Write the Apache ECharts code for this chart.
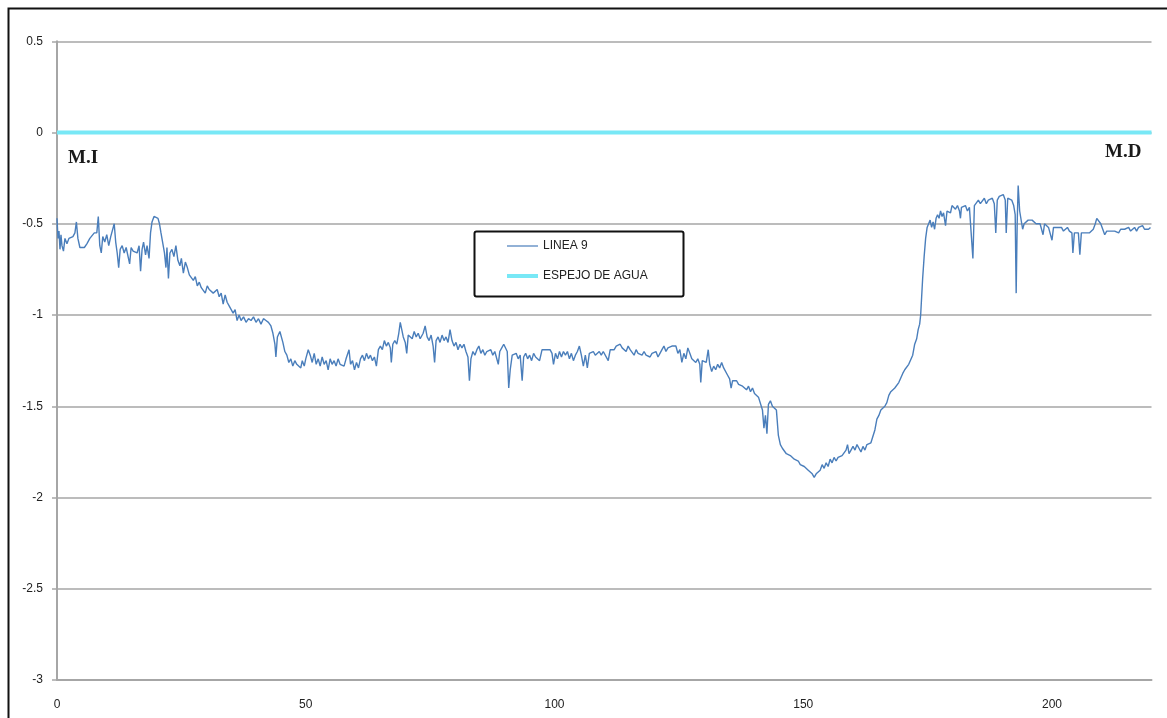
<!DOCTYPE html>
<html>
<head>
<meta charset="utf-8">
<script src="https://cdn.jsdelivr.net/npm/echarts@6/dist/echarts.min.js"></script>
<style>
  html, body { margin: 0; padding: 0; background: #fff; }
  #chart { width: 1167px; height: 718px; }
</style>
</head>
<body>
<div id="chart"></div>
<script>
// Cross-section profile, LINEA 9: [station, elevation]
const linea9 = [
  [0,-0.47],[0.2,-0.58],[0.4,-0.54],[0.6,-0.64],[0.8,-0.56],[1.0,-0.62],[1.3,-0.65],[1.6,-0.58],[2.0,-0.61],[2.4,-0.58],
  [2.8,-0.59],[3.2,-0.57],[3.6,-0.55],[3.9,-0.49],[4.2,-0.58],[4.6,-0.63],[5.0,-0.62],[5.5,-0.63],[6.0,-0.61],[6.6,-0.58],
  [7.0,-0.57],[7.5,-0.55],[8.0,-0.55],[8.3,-0.46],[8.6,-0.62],[8.9,-0.66],[9.2,-0.57],[9.6,-0.60],[10.0,-0.56],[10.4,-0.62],
  [10.8,-0.57],[11.2,-0.58],[11.5,-0.50],[11.8,-0.60],[12.1,-0.66],[12.4,-0.74],[12.7,-0.64],[13.1,-0.62],[13.5,-0.66],[13.9,-0.63],
  [14.3,-0.64],[14.6,-0.72],[14.9,-0.63],[15.3,-0.65],[15.7,-0.64],[16.1,-0.66],[16.5,-0.62],[16.8,-0.76],[17.1,-0.64],[17.4,-0.60],
  [17.8,-0.67],[18.1,-0.62],[18.5,-0.69],[18.8,-0.55],[19.1,-0.49],[19.5,-0.46],[19.9,-0.45],[20.3,-0.47],[20.6,-0.50],[20.9,-0.55],
  [21.3,-0.56],[21.6,-0.66],[21.9,-0.74],[22.1,-0.63],[22.4,-0.80],[22.7,-0.66],[23.1,-0.64],[23.5,-0.68],[23.9,-0.62],[24.3,-0.70],
  [24.7,-0.73],[25.0,-0.69],[25.4,-0.77],[25.8,-0.71],[26.2,-0.74],[26.6,-0.78],[27.0,-0.77],[27.4,-0.81],[27.8,-0.79],[28.2,-0.84],
  [28.6,-0.82],[29.0,-0.85],[29.4,-0.84],[29.8,-0.88],[30.2,-0.84],[30.6,-0.86],[31.0,-0.85],[31.4,-0.88],[31.8,-0.87],[32.2,-0.86],
  [32.6,-0.90],[33.0,-0.88],[33.4,-0.94],[33.8,-0.89],[34.2,-0.93],[34.6,-0.95],[35.0,-0.94],[35.4,-0.99],[35.8,-0.97],[36.2,-1.03],
  [36.6,-1.00],[37.0,-1.03],[37.5,-1.01],[38.0,-1.04],[38.5,-1.02],[39.0,-1.03],[39.5,-1.01],[40.0,-1.04],[40.5,-1.02],[41.0,-1.05],
  [41.5,-1.02],[42.0,-1.03],[42.5,-1.04],[43.0,-1.06],[43.4,-1.10],[43.8,-1.16],[44.0,-1.23],[44.3,-1.12],[44.8,-1.09],[45.1,-1.08],
  [45.4,-1.15],[45.8,-1.20],[46.2,-1.22],[46.6,-1.26],[47.0,-1.24],[47.4,-1.28],[47.8,-1.25],[48.2,-1.27],[48.6,-1.26],[49.0,-1.29],
  [49.3,-1.25],[49.7,-1.28],[50.0,-1.24],[50.5,-1.19],[50.9,-1.22],[51.3,-1.26],[51.7,-1.21],[52.1,-1.27],[52.5,-1.24],[52.9,-1.28],
  [53.3,-1.23],[53.7,-1.27],[54.1,-1.25],[54.5,-1.30],[54.9,-1.24],[55.3,-1.27],[55.7,-1.25],[56.1,-1.28],[56.5,-1.24],[56.9,-1.27],
  [57.3,-1.26],[57.7,-1.28],[58.1,-1.24],[58.7,-1.19],[59.0,-1.27],[59.4,-1.25],[59.8,-1.30],[60.2,-1.26],[60.6,-1.29],[61.0,-1.24],
  [61.4,-1.22],[61.8,-1.25],[62.2,-1.21],[62.6,-1.24],[63.0,-1.22],[63.4,-1.25],[63.8,-1.23],[64.2,-1.28],[64.6,-1.19],[65.0,-1.17],
  [65.4,-1.19],[65.8,-1.14],[66.2,-1.17],[66.6,-1.15],[67.0,-1.18],[67.2,-1.26],[67.5,-1.16],[67.9,-1.14],[68.3,-1.16],[68.7,-1.10],
  [69.0,-1.04],[69.3,-1.08],[69.6,-1.12],[70.0,-1.15],[70.3,-1.21],[70.6,-1.11],[71.0,-1.10],[71.4,-1.13],[71.8,-1.09],[72.2,-1.12],
  [72.6,-1.10],[73.0,-1.13],[73.6,-1.10],[74.0,-1.06],[74.4,-1.12],[74.8,-1.14],[75.2,-1.11],[75.6,-1.17],[75.9,-1.26],[76.2,-1.14],
  [76.6,-1.12],[77.0,-1.15],[77.4,-1.11],[77.8,-1.14],[78.2,-1.12],[78.6,-1.15],[79.0,-1.08],[79.4,-1.14],[79.8,-1.17],[80.2,-1.15],
  [80.6,-1.19],[81.0,-1.16],[81.4,-1.18],[81.8,-1.16],[82.2,-1.20],[82.6,-1.23],[82.9,-1.36],[83.2,-1.24],[83.6,-1.20],[84.0,-1.22],
  [84.4,-1.19],[84.8,-1.17],[85.2,-1.21],[85.6,-1.19],[86.0,-1.22],[86.4,-1.20],[86.8,-1.21],[87.2,-1.19],[87.6,-1.22],[88.0,-1.20],
  [88.4,-1.21],[88.7,-1.27],[89.0,-1.20],[89.4,-1.18],[89.8,-1.16],[90.2,-1.15],[90.5,-1.20],[90.8,-1.40],[91.1,-1.30],[91.5,-1.22],
  [91.9,-1.23],[92.3,-1.21],[92.7,-1.24],[93.1,-1.22],[93.5,-1.36],[93.8,-1.23],[94.2,-1.21],[94.6,-1.24],[95.0,-1.22],[95.4,-1.25],
  [95.8,-1.21],[96.2,-1.23],[96.6,-1.22],[97.0,-1.25],[97.5,-1.19],[97.9,-1.20],[98.3,-1.19],[98.7,-1.20],[99.1,-1.19],[99.5,-1.21],
  [99.8,-1.27],[100.2,-1.21],[100.6,-1.24],[101.0,-1.20],[101.4,-1.23],[101.8,-1.20],[102.2,-1.22],[102.6,-1.20],[103.0,-1.24],[103.4,-1.21],
  [103.8,-1.25],[104.2,-1.22],[104.6,-1.20],[105.0,-1.17],[105.4,-1.22],[105.8,-1.28],[106.2,-1.22],[106.6,-1.29],[107.0,-1.21],[107.4,-1.22],
  [107.8,-1.20],[108.2,-1.22],[108.6,-1.21],[109.0,-1.20],[109.4,-1.22],[109.8,-1.20],[110.2,-1.21],[110.8,-1.25],[111.2,-1.19],[111.6,-1.18],
  [112.0,-1.19],[112.4,-1.17],[112.8,-1.18],[113.2,-1.16],[113.6,-1.18],[114.0,-1.17],[114.4,-1.20],[114.8,-1.17],[115.2,-1.19],[115.6,-1.18],
  [116.0,-1.22],[116.4,-1.19],[116.8,-1.21],[117.2,-1.20],[117.6,-1.22],[118.0,-1.20],[118.4,-1.22],[118.8,-1.21],[119.2,-1.23],[119.6,-1.21],
  [120.0,-1.22],[120.4,-1.20],[120.8,-1.23],[121.2,-1.21],[121.6,-1.19],[122.0,-1.17],[122.4,-1.20],[122.8,-1.18],[123.2,-1.19],[123.6,-1.17],
  [124.0,-1.18],[124.4,-1.17],[124.8,-1.21],[125.2,-1.19],[125.6,-1.26],[126.0,-1.21],[126.4,-1.24],[126.8,-1.18],[127.2,-1.21],[127.6,-1.24],
  [128.0,-1.23],[128.4,-1.26],[128.8,-1.24],[129.2,-1.27],[129.4,-1.37],[129.7,-1.25],[130.1,-1.24],[130.5,-1.26],[130.9,-1.19],[131.2,-1.27],
  [131.6,-1.31],[132.0,-1.28],[132.4,-1.30],[132.8,-1.27],[133.2,-1.29],[133.6,-1.26],[134.0,-1.29],[134.4,-1.28],[134.8,-1.33],[135.2,-1.35],
  [135.5,-1.40],[135.8,-1.36],[136.2,-1.37],[136.6,-1.36],[137.0,-1.38],[137.4,-1.37],[137.8,-1.39],[138.2,-1.38],[138.6,-1.41],[139.0,-1.39],
  [139.4,-1.42],[139.8,-1.40],[140.2,-1.43],[140.6,-1.42],[141.0,-1.45],[141.4,-1.46],[141.8,-1.52],[142.1,-1.62],[142.4,-1.55],[142.7,-1.65],
  [143.0,-1.49],[143.4,-1.47],[143.8,-1.50],[144.2,-1.49],[144.6,-1.52],[145.0,-1.66],[145.4,-1.71],[145.8,-1.73],[146.2,-1.72],[146.6,-1.76],
  [147.0,-1.75],[147.4,-1.77],[147.8,-1.76],[148.2,-1.79],[148.6,-1.78],[149.0,-1.80],[149.4,-1.82],[149.8,-1.81],[150.2,-1.83],[150.6,-1.82],
  [151.0,-1.85],[151.4,-1.84],[151.8,-1.87],[152.2,-1.89],[152.6,-1.87],[153.0,-1.88],[153.4,-1.85],[153.8,-1.82],[154.2,-1.84],[154.6,-1.81],
  [155.0,-1.83],[155.4,-1.79],[155.8,-1.81],[156.2,-1.78],[156.6,-1.80],[157.0,-1.78],[157.4,-1.79],[157.8,-1.77],[158.2,-1.78],[158.6,-1.74],
  [158.9,-1.71],[159.2,-1.76],[159.6,-1.74],[160.0,-1.72],[160.4,-1.74],[160.8,-1.71],[161.2,-1.73],[161.6,-1.75],[162.0,-1.72],[162.4,-1.74],
  [162.8,-1.71],[163.2,-1.72],[163.6,-1.70],[164.0,-1.71],[164.4,-1.63],[164.8,-1.57],[165.2,-1.55],[165.6,-1.52],[166.0,-1.53],[166.4,-1.50],
  [166.8,-1.48],[167.2,-1.44],[167.6,-1.42],[168.0,-1.43],[168.4,-1.40],[168.8,-1.41],[169.2,-1.37],[169.6,-1.36],[170.0,-1.32],[170.4,-1.30],
  [170.8,-1.31],[171.2,-1.27],[171.6,-1.28],[172.0,-1.22],[172.4,-1.16],[172.8,-1.13],[173.1,-1.08],[173.4,-1.05],[173.6,-1.00],[173.8,-0.90],
  [174.0,-0.80],[174.3,-0.68],[174.6,-0.58],[174.9,-0.52],[175.2,-0.50],[175.5,-0.48],[175.8,-0.52],[176.1,-0.49],[176.4,-0.53],[176.7,-0.47],
  [177.0,-0.45],[177.3,-0.47],[177.6,-0.43],[177.9,-0.46],[178.2,-0.44],[178.6,-0.51],[178.9,-0.43],[179.2,-0.42],[179.6,-0.44],[179.9,-0.40],
  [180.2,-0.41],[180.6,-0.42],[181.0,-0.40],[181.4,-0.43],[181.6,-0.47],[181.8,-0.41],[182.2,-0.42],[182.6,-0.40],[183.0,-0.43],[183.4,-0.41],
  [183.8,-0.42],[184.1,-0.69],[184.4,-0.40],[184.8,-0.39],[185.2,-0.37],[185.6,-0.39],[186.0,-0.38],[186.4,-0.36],[186.8,-0.39],[187.2,-0.37],
  [187.6,-0.38],[188.0,-0.36],[188.4,-0.39],[188.7,-0.55],[189.0,-0.37],[189.4,-0.35],[189.8,-0.36],[190.2,-0.34],[190.6,-0.37],[190.8,-0.55],
  [191.1,-0.36],[191.5,-0.35],[191.9,-0.37],[192.3,-0.40],[192.6,-0.45],[192.8,-0.88],[193.0,-0.50],[193.2,-0.29],[193.5,-0.43],[193.8,-0.42],
  [194.1,-0.53],[194.4,-0.50],[194.8,-0.49],[195.2,-0.48],[195.6,-0.49],[196.0,-0.48],[196.4,-0.49],[196.8,-0.50],[197.2,-0.49],[197.6,-0.50],
  [197.9,-0.51],[198.2,-0.56],[198.5,-0.50],[198.9,-0.51],[199.3,-0.52],[199.7,-0.51],[200.0,-0.59],[200.3,-0.52],[200.7,-0.53],[201.1,-0.52],
  [201.5,-0.53],[201.9,-0.52],[202.3,-0.54],[202.7,-0.53],[203.1,-0.52],[203.5,-0.54],[204.0,-0.55],[204.2,-0.66],[204.5,-0.55],[204.9,-0.54],
  [205.3,-0.55],[205.6,-0.67],[205.9,-0.55],[206.3,-0.54],[206.7,-0.55],[207.1,-0.54],[207.5,-0.55],[207.9,-0.54],[208.3,-0.53],[208.7,-0.50],
  [209.0,-0.47],[209.4,-0.48],[209.8,-0.50],[210.2,-0.53],[210.6,-0.56],[211.0,-0.54],[211.4,-0.53],[211.8,-0.54],[212.2,-0.53],[212.6,-0.54],
  [213.0,-0.53],[213.4,-0.55],[213.8,-0.53],[214.2,-0.54],[214.6,-0.53],[215.0,-0.54],[215.4,-0.52],[215.8,-0.54],[216.2,-0.53],[216.6,-0.52],
  [217.0,-0.54],[217.4,-0.52],[217.8,-0.53],[218.2,-0.51],[218.6,-0.53],[219.0,-0.52],[219.4,-0.53],[219.8,-0.52]
];

// Water surface level across the section
const espejoStations = [0, 220];
const espejoLevel = [0, 0];

const seriesNames = ['LINEA 9', 'ESPEJO DE AGUA'];
const bankLabels = ['M.I', 'M.D'];

const xRange = [0, 220];
const yRange = [-3, 0.5];
const xStep = 50;
const yStep = 0.5;

const profileBlue = '#4a7ebb';
const waterCyan = '#78e8f6';

const chart = echarts.init(document.getElementById('chart'), null, { renderer: 'canvas' });

const axisGray = '#a6a6a6';
const labelFont = { color: '#222', fontFamily: 'Liberation Sans, Arial, sans-serif', fontSize: 12 };

chart.setOption({
  animation: false,
  backgroundColor: '#fff',
  grid: { left: 57, right: 15.5, top: 41.3, bottom: 38, containLabel: false },
  xAxis: {
    type: 'value',
    min: xRange[0], max: xRange[1], interval: xStep,
    axisLine: { show: true, onZero: false, lineStyle: { color: axisGray, width: 2 } },
    axisTick: { show: false },
    splitLine: { show: false },
    axisLabel: Object.assign({ margin: 19, showMaxLabel: false,
      formatter: v => (v % xStep === 0 ? String(v) : '') }, labelFont)
  },
  yAxis: {
    type: 'value',
    min: yRange[0], max: yRange[1], interval: yStep,
    axisLine: { show: true, lineStyle: { color: axisGray, width: 2 } },
    axisTick: { show: true, length: 5, lineStyle: { color: axisGray, width: 1.5 } },
    splitLine: { show: true, lineStyle: { color: axisGray, width: 1.5 } },
    axisLabel: Object.assign({ margin: 14 }, labelFont)
  },
  legend: {
    orient: 'vertical',
    left: 505, top: 240,
    padding: 0,
    itemWidth: 31, itemHeight: 14, itemGap: 18,
    itemStyle: { opacity: 0 },
    data: [
      { name: seriesNames[0], lineStyle: { color: profileBlue, width: 1.2 } },
      { name: seriesNames[1], lineStyle: { color: waterCyan, width: 4 } }
    ],
    textStyle: { color: '#222', fontFamily: 'Liberation Sans, Arial, sans-serif', fontSize: 12 }
  },
  graphic: [
    // outer frame
    { type: 'rect', left: 6, top: 6, shape: { width: 1170, height: 720 },
      style: { fill: 'none', stroke: '#111', lineWidth: 2 }, silent: true },
    // legend box
    { type: 'rect', left: 472, top: 229, shape: { width: 209, height: 65, r: 2 },
      style: { fill: 'none', stroke: '#111', lineWidth: 2 }, z: 10, silent: true },
    { type: 'text', left: 68, top: 149, style: { text: bankLabels[0], fill: '#1a1a1a',
      font: 'bold 19px "Liberation Serif", "Times New Roman", serif' } },
    { type: 'text', left: 1105, top: 143, style: { text: bankLabels[1], fill: '#1a1a1a',
      font: 'bold 19px "Liberation Serif", "Times New Roman", serif' } }
  ],
  series: [
    {
      name: seriesNames[0],
      type: 'line',
      data: linea9,
      showSymbol: false,
      symbol: 'none',
      lineStyle: { color: profileBlue, width: 1.4 },
      itemStyle: { color: profileBlue },
      z: 3
    },
    {
      name: seriesNames[1],
      type: 'line',
      data: espejoStations.map((s, i) => [s, espejoLevel[i]]),
      showSymbol: false,
      symbol: 'none',
      lineStyle: { color: waterCyan, width: 4 },
      itemStyle: { color: waterCyan },
      z: 2
    }
  ]
});
</script>
</body>
</html>
